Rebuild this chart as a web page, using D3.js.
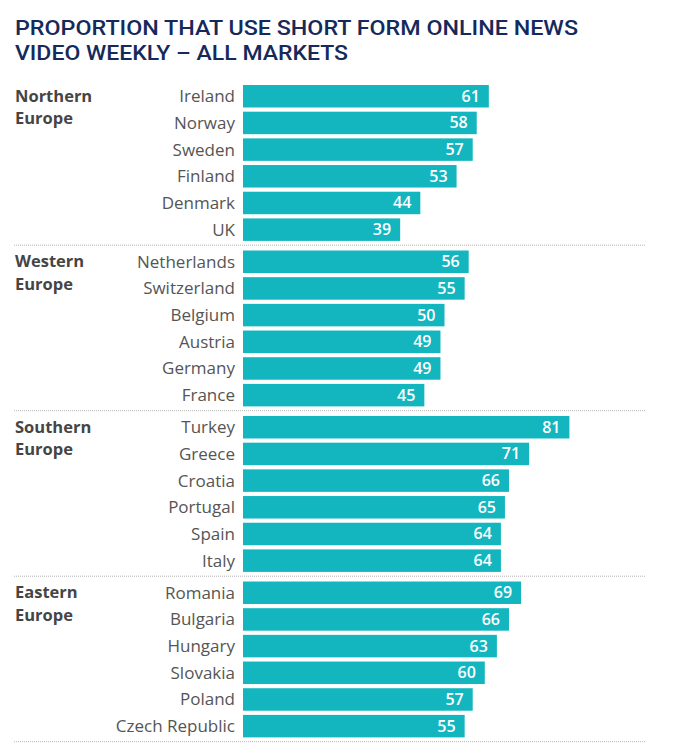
<!DOCTYPE html>
<html>
<head>
<meta charset="utf-8">
<script src="https://cdn.jsdelivr.net/npm/d3@7"></script>
<style>
	body { margin: 0; background: #fff; }
	svg { display: block; }
	.title { font-family: Roboto, sans-serif; font-weight: 500; fill: #15295b; font-size: 21px; }
	.region { font-family: "Open Sans", sans-serif; font-weight: 700; fill: #454545; font-size: 16.5px; }
	.country { font-family: "Open Sans", sans-serif; fill: #555; font-size: 17px; }
	.value { font-family: "Open Sans", sans-serif; font-weight: 600; fill: #fff; font-size: 16px; }
</style>
</head>
<body>
<div id="chart"></div>
<script>

var regions = ["Northern Europe", "Western Europe", "Southern Europe", "Eastern Europe"];

var northern = ["Ireland", "Norway", "Sweden", "Finland", "Denmark", "UK"];
var northernValues = [61, 58, 57, 53, 44, 39];

var western = ["Netherlands", "Switzerland", "Belgium", "Austria", "Germany", "France"];
var westernValues = [56, 55, 50, 49, 49, 45];

var southern = ["Turkey", "Greece", "Croatia", "Portugal", "Spain", "Italy"];
var southernValues = [81, 71, 66, 65, 64, 64];

var eastern = ["Romania", "Bulgaria", "Hungary", "Slovakia", "Poland", "Czech Republic"];
var easternValues = [69, 66, 63, 60, 57, 55];

var titleLines = ["PROPORTION THAT USE SHORT FORM ONLINE NEWS", "VIDEO WEEKLY \u2013 ALL MARKETS"];

var countries = [northern, western, southern, eastern];
var values = [northernValues, westernValues, southernValues, easternValues];

let svg_width = 684,
	svg_height = 744;

var svg = d3.select("#chart").append("svg")
	.attr("width", svg_width)
	.attr("height", svg_height);

// title, stretched to the widths of the original lines
var titleWidths = [563, 333];
svg.selectAll(".title")
	.data(titleLines)
	.enter()
	.append("text")
	.attr("class", "title")
	.attr("x", 15)
	.attr("y", function(d, i) { return 34.5 + i * 25; })
	.attr("textLength", function(d, i) { return titleWidths[i]; })
	.attr("lengthAdjust", "spacingAndGlyphs")
	.text(function(d) { return d; });

// scales
var xScale = d3.scaleLinear().domain([0, 100]).range([243, 646]);
var groupScale = d3.scaleBand().domain(regions).range([80.2, 742.2]);
var rowScale = d3.scaleBand()
	.domain(d3.range(6))
	.range([0, groupScale.bandwidth()])
	.paddingInner(0.157)
	.paddingOuter(0.18);

var groups = svg.selectAll(".group")
	.data(regions)
	.enter()
	.append("g")
	.attr("class", "group")
	.attr("transform", function(d) { return "translate(0," + groupScale(d) + ")"; });

// region label, two lines
groups.append("text")
	.attr("class", "region")
	.attr("x", 15)
	.attr("y", rowScale(0) + rowScale.bandwidth() / 2 + 5.7)
	.selectAll("tspan")
	.data(function(d) { return d.split(" "); })
	.enter()
	.append("tspan")
	.attr("x", 15)
	.attr("dy", function(d, i) { return i == 0 ? 0 : 22.5; })
	.text(function(d) { return d; });

// dotted separator under each group
groups.append("line")
	.attr("x1", 14)
	.attr("x2", xScale(100))
	.attr("y1", groupScale.bandwidth() - 0.5)
	.attr("y2", groupScale.bandwidth() - 0.5)
	.attr("stroke", "#b5b5b5")
	.attr("stroke-width", 1)
	.attr("stroke-dasharray", "1,1");

var rows = groups.selectAll(".row")
	.data(function(d, gi) {
		return countries[gi].map(function(c, i) { return { country: c, value: values[gi][i], i: i }; });
	})
	.enter()
	.append("g")
	.attr("class", "row")
	.attr("transform", function(d) { return "translate(0," + rowScale(d.i) + ")"; });

rows.append("rect")
	.attr("x", xScale(0))
	.attr("y", 0)
	.attr("width", function(d) { return xScale(d.value) - xScale(0); })
	.attr("height", rowScale.bandwidth())
	.attr("fill", "#13b6bf");

rows.append("text")
	.attr("class", "country")
	.attr("x", xScale(0) - 8)
	.attr("y", rowScale.bandwidth() / 2 + 6)
	.style("text-anchor", "end")
	.text(function(d) { return d.country; });

rows.append("text")
	.attr("class", "value")
	.attr("x", function(d) { return xScale(d.value) - 9; })
	.attr("y", rowScale.bandwidth() / 2 + 5.5)
	.style("text-anchor", "end")
	.text(function(d) { return d.value; });

</script>
</body>
</html>
